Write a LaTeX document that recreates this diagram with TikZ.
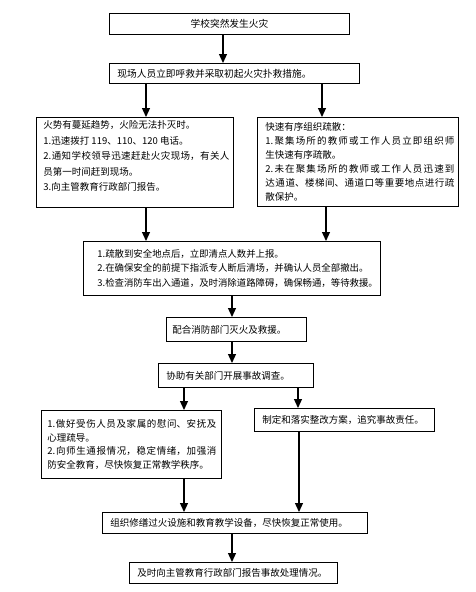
\documentclass[tikz,border=0pt]{standalone}
\usepackage{fontspec}
\setmainfont{Noto Sans CJK SC}
\usetikzlibrary{arrows.meta}
\XeTeXlinebreaklocale "zh"
\XeTeXlinebreakskip=0pt plus 1pt minus 0.3pt
\tikzset{
  box/.style={draw=black, line width=0.9pt, inner sep=0pt, anchor=north west, fill=white},
  arr/.style={line width=1.2pt, -{Triangle[width=8pt,length=9pt]}}
}
\begin{document}
\begin{tikzpicture}[x=1pt,y=-1pt]
\useasboundingbox (0,0) rectangle (475,592);
\node[box] (b1) at (109,13) {\parbox[c][21pt][c]{240pt}{\centering\fontsize{9.7}{12}\selectfont 学校突然发生火灾}};
\node[box] (b2) at (109,63) {\parbox[c][20pt][c]{250pt}{\leftskip=8pt\fontsize{9.7}{12}\selectfont 现场人员立即呼救并采取初起火灾扑救措施。}};
\node[box] (b3) at (36,117) {\parbox[c][90pt][t]{197pt}{\vspace*{3pt}\leftskip=7pt\rightskip=4pt\fontsize{9.5}{15.5}\selectfont 火势有蔓延趋势，火险无法扑灭时。\\
1.迅速拨打 119、110、120 电话。\\
2.通知学校领导迅速赶赴火灾现场，有关人\linebreak
员第一时间赶到现场。\\
3.向主管教育行政部门报告。}};
\node[box] (b4) at (257,117) {\parbox[c][89pt][c]{201pt}{\leftskip=8pt\rightskip=4pt\fontsize{9.5}{14}\selectfont 快速有序组织疏散：\\
1.聚集场所的教师或工作人员立即组织师\linebreak
生快速有序疏散。\\
2.未在聚集场所的教师或工作人员迅速到\linebreak
达通道、楼梯间、通道口等重要地点进行疏\linebreak
散保护。}};
\node[box] (b5) at (83,241) {\parbox[c][54pt][c]{297pt}{\leftskip=14pt\rightskip=0pt\fontsize{9.4}{14.5}\selectfont 1.疏散到安全地点后，立即清点人数并上报。\\
2.在确保安全的前提下指派专人断后清场，并确认人员全部撤出。\\
3.检查消防车出入通道，及时消除道路障碍，确保畅通，等待救援。}};
\node[box] (b6) at (166,317) {\parbox[c][24pt][c]{140pt}{\leftskip=6pt\fontsize{9.5}{12}\selectfont 配合消防部门灭火及救援。}};
\node[box] (b7) at (158,363) {\parbox[c][24pt][c]{155pt}{\leftskip=8pt\fontsize{9.5}{12}\selectfont 协助有关部门开展事故调查。}};
\node[box] (b8) at (41,410) {\parbox[c][68pt][c]{180pt}{\leftskip=6pt\rightskip=5pt\fontsize{9.5}{13.5}\selectfont 1.做好受伤人员及家属的慰问、安抚及\linebreak
心理疏导。\\
2.向师生通报情况，稳定情绪，加强消\linebreak
防安全教育，尽快恢复正常教学秩序。}};
\node[box] (b9) at (254,408) {\parbox[c][23pt][c]{180pt}{\leftskip=8pt\fontsize{9.5}{12}\selectfont 制定和落实整改方案，追究事故责任。}};
\node[box] (b10) at (102,512) {\parbox[c][21pt][c]{265pt}{\leftskip=8pt\fontsize{9.5}{12}\selectfont 组织修缮过火设施和教育教学设备，尽快恢复正常使用。}};
\node[box] (b11) at (129,562) {\parbox[c][21pt][c]{208pt}{\leftskip=8pt\fontsize{9.5}{12}\selectfont 及时向主管教育行政部门报告事故处理情况。}};
\draw[arr] ([xshift=114pt]b1.south west) -- ([xshift=114pt]b2.north west);
\draw[arr] ([xshift=37pt]b2.south west) -- ([xshift=110pt]b3.north west);
\draw[arr] ([xshift=213pt]b2.south west) -- ([xshift=65pt]b4.north west);
\draw[arr] ([xshift=110pt]b3.south west) -- ([xshift=63pt]b5.north west);
\draw[arr] ([xshift=69pt]b4.south west) -- ([xshift=243pt]b5.north west);
\draw[arr] ([xshift=149pt]b5.south west) -- ([xshift=66pt]b6.north west);
\draw[arr] ([xshift=66pt]b6.south west) -- ([xshift=74pt]b7.north west);
\draw[arr] ([xshift=26pt]b7.south west) -- ([xshift=143pt]b8.north west);
\draw[arr] ([xshift=140pt]b7.south west) -- ([xshift=44pt]b9.north west);
\draw[arr] ([xshift=143pt]b8.south west) -- ([xshift=82pt]b10.north west);
\draw[arr] ([xshift=45pt]b9.south west) -- ([xshift=197pt]b10.north west);
\draw[arr] ([xshift=130pt]b10.south west) -- ([xshift=103pt]b11.north west);
\end{tikzpicture}
\end{document}
